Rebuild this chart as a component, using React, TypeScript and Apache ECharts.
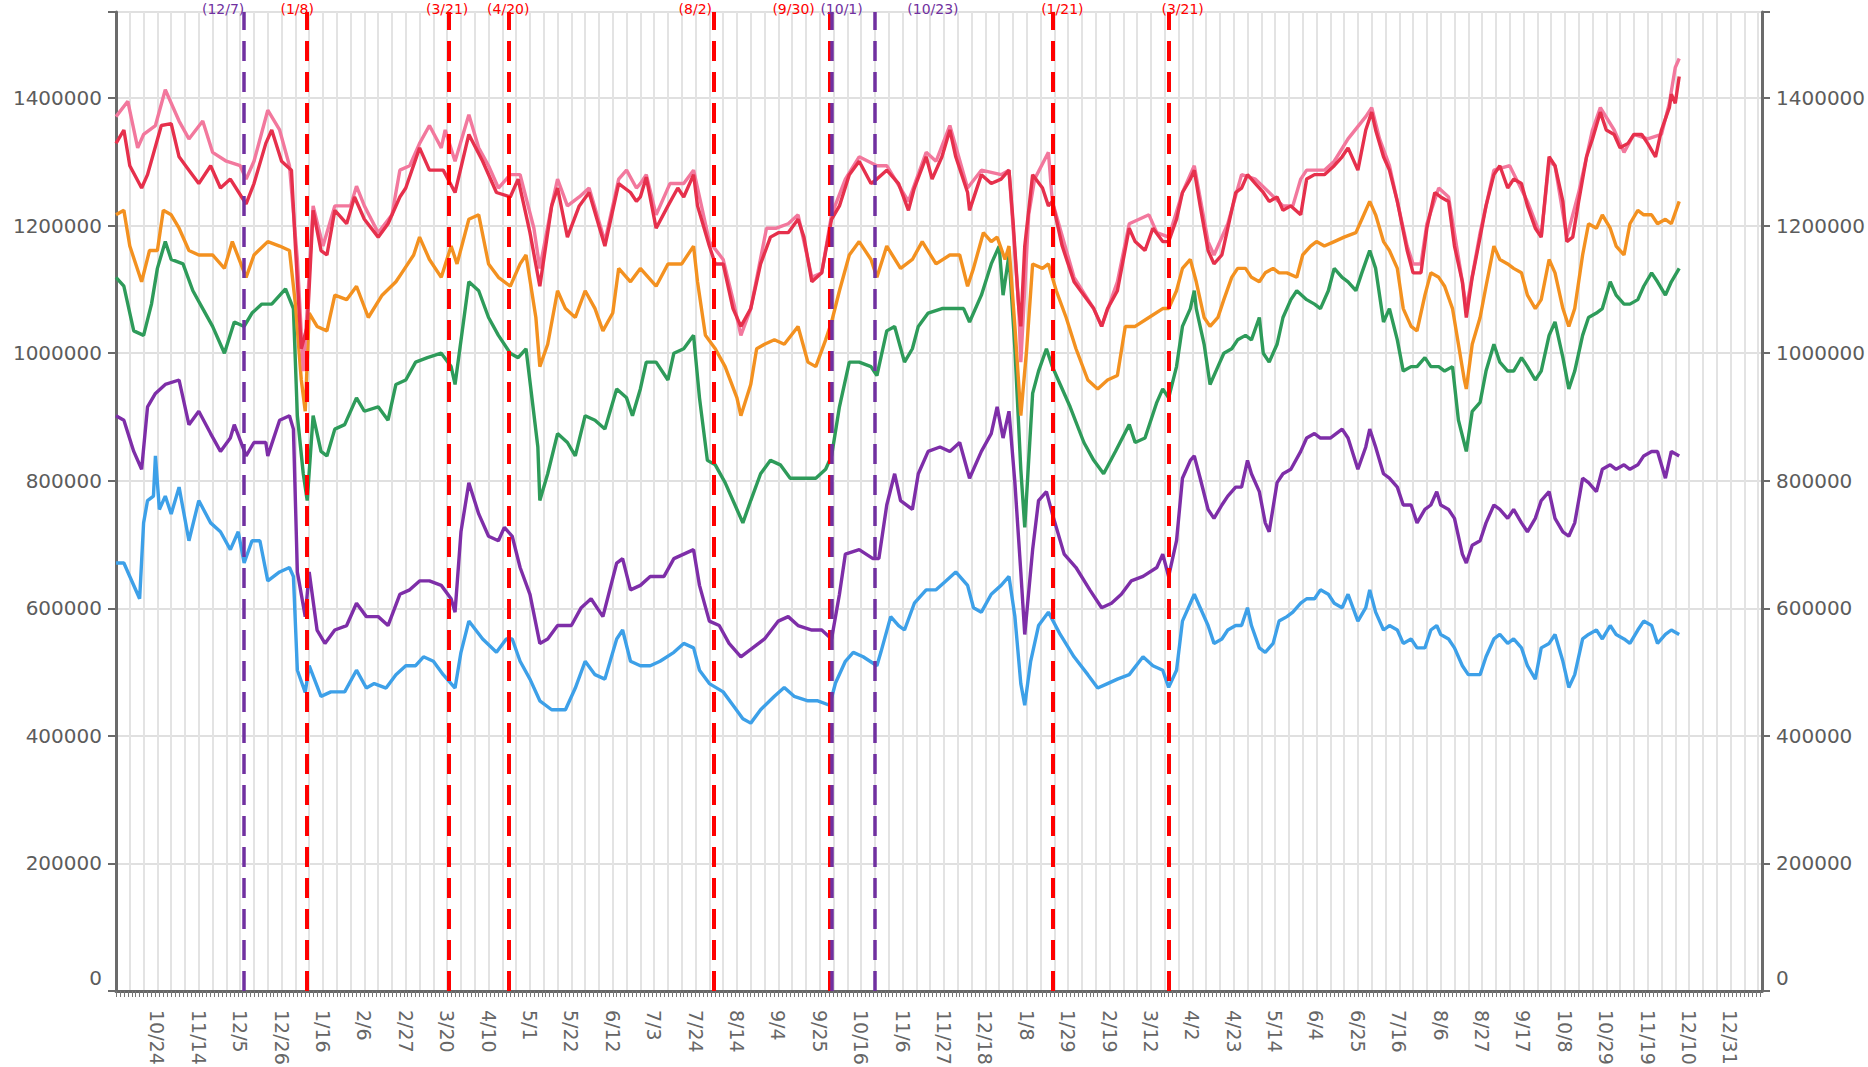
import React, { useEffect, useRef } from 'react';
import * as echarts from 'echarts';

// ---------- axis definition ----------
const axisStartDate = '2021-10-03'; // first day shown on the x axis
const axisDayCount = 836; // daily categories up to 2024-01-15
const originDate = '2021-10-24'; // day 0 of the data arrays; labels every 21 days from here
const labelEveryDays = 21;
const gridEveryDays = 7;
const yTickValues = [0, 200000, 400000, 600000, 800000, 1000000, 1200000, 1400000];

// ---------- data: [days since 2021-10-24, value] ----------
const pinkSeries: [number, number][] = [
  [-21,1371000],[-15,1395000],[-10,1322000],[-7,1343000],[-1,1357000],[4,1413000],[11,1364000],[16,1336000],[23,1364000],[28,1315000],[35,1301000],[42,1294000],[45,1273000],[49,1301000],[56,1381000],[62,1350000],[67,1294000],[71,1147000],[74,972000],[76,1070000],[79,1231000],[84,1168000],[90,1231000],[98,1231000],[101,1262000],[105,1231000],[112,1189000],[119,1217000],[123,1287000],[128,1294000],[133,1329000],[138,1357000],[144,1322000],[146,1350000],[151,1301000],[158,1374000],[163,1322000],[168,1294000],[173,1259000],[179,1280000],[184,1280000],[191,1196000],[194,1133000],[200,1231000],[203,1273000],[208,1231000],[214,1245000],[219,1259000],[227,1175000],[234,1273000],[238,1287000],[243,1259000],
  [245,1266000],[248,1280000],[253,1217000],[260,1266000],[267,1266000],[272,1287000],[280,1175000],[287,1147000],[292,1084000],[296,1028000],[301,1070000],[309,1196000],[314,1196000],[320,1203000],[325,1217000],[332,1119000],[337,1126000],[342,1217000],[349,1273000],[356,1308000],[365,1294000],[370,1294000],[381,1238000],[390,1315000],[395,1301000],[402,1357000],[411,1259000],[418,1287000],[428,1280000],[432,1287000],[437,1070000],[438,986000],[442,1217000],[445,1273000],[452,1315000],[454,1238000],[465,1119000],[475,1070000],[479,1042000],[487,1112000],[493,1203000],[503,1217000],[507,1189000],
  [513,1182000],[520,1252000],[526,1294000],[533,1175000],[536,1154000],[543,1203000],[550,1280000],[557,1273000],[564,1252000],[571,1231000],[576,1231000],[580,1273000],[583,1287000],[592,1287000],[597,1301000],[604,1336000],[613,1371000],[616,1385000],[620,1336000],[625,1294000],[634,1168000],[637,1140000],[641,1140000],[644,1203000],[650,1259000],[655,1245000],[662,1112000],[664,1070000],[671,1189000],[678,1287000],[686,1294000],[695,1238000],[702,1182000],[706,1301000],[709,1294000],[715,1182000],[721,1252000],[728,1350000],[732,1385000],[739,1350000],[744,1315000],[749,1343000],[756,1336000],[763,1343000],[767,1392000],[770,1448000],[772,1462000],
];

const redSeries: [number, number][] = [
  [-21,1329000],[-17,1350000],[-14,1294000],[-8,1259000],[-5,1280000],[2,1357000],[7,1360000],[11,1308000],[16,1287000],[21,1266000],[27,1294000],[32,1259000],[37,1273000],[45,1234000],[49,1266000],[55,1329000],[58,1350000],[63,1301000],[68,1287000],[70,1168000],[73,1007000],[76,1042000],[79,1224000],[83,1161000],[86,1154000],[90,1224000],[96,1203000],[100,1245000],[105,1210000],[112,1182000],[117,1203000],[123,1245000],[126,1259000],[133,1322000],[138,1287000],[145,1287000],[151,1252000],[158,1343000],[165,1301000],[172,1252000],[179,1245000],[183,1273000],[189,1189000],[194,1105000],[200,1231000],[203,1259000],[208,1182000],[214,1231000],[219,1252000],[227,1168000],[234,1266000],[240,1252000],[243,1238000],
  [245,1245000],[248,1276000],[253,1196000],[259,1231000],[264,1259000],[267,1245000],[272,1280000],[274,1231000],[280,1168000],[283,1140000],[287,1140000],[292,1070000],[296,1042000],[301,1070000],[306,1140000],[311,1182000],[315,1189000],[320,1189000],[325,1210000],[328,1182000],[332,1112000],[337,1126000],[342,1210000],[346,1231000],[351,1280000],[356,1301000],[362,1266000],[365,1273000],[370,1287000],[376,1266000],[381,1224000],[384,1259000],[390,1308000],[393,1273000],[398,1308000],[402,1350000],[405,1308000],[411,1252000],[412,1224000],[418,1280000],[423,1266000],[428,1273000],[432,1287000],[434,1210000],[437,1070000],[438,1042000],[440,1168000],[444,1280000],[449,1259000],[452,1231000],[454,1238000],[459,1168000],[465,1112000],[470,1091000],[475,1070000],[479,1042000],[482,1070000],[487,1098000],[493,1196000],[496,1175000],[501,1161000],[505,1196000],[510,1175000],
  [513,1175000],[517,1210000],[520,1252000],[524,1273000],[526,1287000],[529,1231000],[533,1161000],[536,1140000],[540,1154000],[543,1196000],[547,1252000],[550,1259000],[553,1280000],[557,1266000],[561,1252000],[564,1238000],[568,1245000],[571,1224000],[575,1231000],[580,1217000],[583,1273000],[587,1280000],[592,1280000],[597,1294000],[601,1308000],[604,1322000],[609,1287000],[613,1350000],[616,1378000],[618,1350000],[622,1308000],[625,1287000],[629,1238000],[634,1161000],[637,1126000],[641,1126000],[644,1196000],[648,1252000],[651,1245000],[655,1238000],[658,1168000],[662,1112000],[664,1056000],[667,1119000],[671,1182000],[674,1231000],[678,1280000],[681,1294000],[685,1259000],[688,1273000],[692,1266000],[695,1231000],[699,1196000],[702,1182000],[706,1308000],[709,1294000],[713,1238000],[715,1175000],[718,1182000],[721,1238000],[725,1308000],[728,1336000],[732,1378000],[735,1350000],[739,1343000],[742,1322000],[746,1329000],[749,1343000],[753,1343000],[756,1329000],[760,1308000],[763,1350000],[767,1385000],[768,1406000],[770,1392000],[772,1434000],
];

const orangeSeries: [number, number][] = [
  [-21,1217000],[-17,1224000],[-14,1168000],[-8,1112000],[-4,1161000],[0,1161000],[3,1224000],[7,1217000],[11,1196000],[16,1161000],[21,1154000],[28,1154000],[34,1133000],[38,1175000],[45,1119000],[49,1154000],[56,1175000],[62,1168000],[67,1161000],[70,1077000],[73,958000],[75,909000],[77,1063000],[81,1042000],[86,1035000],[90,1091000],[96,1084000],[101,1105000],[107,1056000],[114,1091000],[121,1112000],[124,1126000],[130,1154000],[133,1182000],[138,1147000],[144,1119000],[149,1168000],[152,1140000],[158,1210000],[163,1217000],[168,1140000],[173,1119000],[179,1105000],[184,1140000],[187,1154000],[192,1056000],[194,979000],[198,1014000],[203,1098000],[207,1070000],[212,1056000],[217,1098000],[222,1070000],[226,1035000],[231,1063000],[234,1133000],[240,1112000],
  [245,1133000],[253,1105000],[259,1140000],[266,1140000],[272,1168000],[274,1112000],[278,1028000],[283,1007000],[288,979000],[294,930000],[296,902000],[301,951000],[304,1007000],[308,1014000],[313,1021000],[318,1014000],[325,1042000],[330,986000],[334,979000],[339,1021000],[342,1049000],[346,1098000],[351,1154000],[356,1175000],[362,1147000],[365,1119000],[370,1168000],[377,1133000],[383,1147000],[388,1175000],[395,1140000],[402,1154000],[407,1154000],[411,1105000],[414,1133000],[419,1189000],[423,1175000],[426,1182000],[430,1147000],[432,1168000],[435,1042000],[438,902000],[441,1007000],[444,1140000],[449,1133000],[452,1140000],[456,1098000],[461,1056000],[466,1007000],[472,958000],[477,944000],[482,958000],[487,965000],[491,1042000],[496,1042000],[503,1056000],[510,1070000],
  [513,1070000],[517,1098000],[520,1133000],[524,1147000],[527,1112000],[531,1056000],[534,1042000],[538,1056000],[541,1084000],[545,1119000],[548,1133000],[552,1133000],[555,1119000],[559,1112000],[562,1126000],[566,1133000],[569,1126000],[573,1126000],[578,1119000],[581,1154000],[585,1168000],[588,1175000],[592,1168000],[597,1175000],[602,1182000],[608,1189000],[611,1210000],[615,1238000],[618,1217000],[622,1175000],[625,1161000],[629,1133000],[632,1070000],[636,1042000],[639,1035000],[643,1091000],[646,1126000],[650,1119000],[653,1105000],[657,1070000],[660,1014000],[663,958000],[664,944000],[667,1014000],[671,1056000],[674,1105000],[678,1168000],[681,1147000],[685,1140000],[688,1133000],[692,1126000],[695,1091000],[699,1070000],[702,1084000],[706,1147000],[709,1126000],[713,1070000],[716,1042000],[719,1070000],[723,1154000],[726,1203000],[730,1196000],[733,1217000],[737,1196000],[740,1168000],[744,1154000],[747,1203000],[751,1224000],[754,1217000],[758,1217000],[761,1203000],[765,1210000],[768,1203000],[772,1238000],
];

const greenSeries: [number, number][] = [
  [-21,1119000],[-17,1105000],[-12,1035000],[-7,1028000],[-3,1077000],[0,1133000],[4,1175000],[7,1147000],[13,1140000],[18,1098000],[23,1070000],[28,1042000],[34,1000000],[39,1049000],[44,1042000],[48,1063000],[53,1077000],[58,1077000],[65,1101000],[69,1070000],[71,902000],[74,811000],[76,769000],[79,902000],[83,846000],[86,839000],[90,881000],[95,888000],[101,930000],[105,909000],[112,916000],[117,895000],[121,951000],[126,958000],[131,986000],[137,993000],[144,1000000],[149,979000],[151,951000],[158,1112000],[163,1098000],[168,1056000],[173,1028000],[179,1000000],[183,993000],[187,1007000],[193,853000],[194,769000],[198,811000],[203,874000],[208,860000],[212,839000],[217,902000],[222,895000],[227,881000],[233,944000],[238,930000],[241,902000],
  [245,944000],[248,986000],[253,986000],[259,958000],[262,1000000],[267,1007000],[272,1028000],[275,930000],[279,832000],[283,825000],[288,797000],[294,755000],[297,734000],[301,769000],[306,811000],[311,832000],[316,825000],[321,804000],[328,804000],[334,804000],[339,818000],[342,839000],[346,916000],[351,986000],[356,986000],[362,979000],[365,965000],[370,1035000],[374,1042000],[379,986000],[383,1007000],[386,1042000],[391,1063000],[398,1070000],[402,1070000],[409,1070000],[412,1049000],[418,1091000],[423,1140000],[427,1168000],[429,1091000],[432,1154000],[435,1007000],[438,818000],[440,727000],[444,937000],[447,972000],[451,1007000],[454,979000],[458,951000],[463,916000],[470,860000],[475,832000],[480,811000],[486,846000],[493,888000],[496,860000],[501,867000],[507,923000],[510,944000],
  [513,930000],[517,979000],[520,1042000],[524,1070000],[526,1098000],[527,1070000],[531,1014000],[534,951000],[538,979000],[541,1000000],[545,1007000],[548,1021000],[552,1028000],[555,1021000],[559,1056000],[561,1000000],[564,986000],[568,1014000],[571,1056000],[575,1084000],[578,1098000],[583,1084000],[587,1077000],[590,1070000],[594,1098000],[597,1133000],[601,1119000],[604,1112000],[608,1098000],[611,1126000],[615,1161000],[618,1133000],[622,1049000],[625,1070000],[629,1021000],[632,972000],[636,979000],[639,979000],[643,993000],[646,979000],[650,979000],[653,972000],[657,979000],[660,895000],[664,846000],[667,909000],[671,923000],[674,972000],[678,1014000],[681,986000],[685,972000],[688,972000],[692,993000],[695,979000],[699,958000],[702,972000],[706,1028000],[709,1049000],[713,993000],[716,944000],[719,972000],[723,1028000],[726,1056000],[730,1063000],[733,1070000],[737,1112000],[740,1091000],[744,1077000],[747,1077000],[751,1084000],[754,1105000],[758,1126000],[761,1112000],[765,1091000],[768,1112000],[772,1133000],
];

const purpleSeries: [number, number][] = [
  [-21,902000],[-17,895000],[-12,846000],[-8,818000],[-5,916000],[-1,937000],[4,951000],[11,958000],[16,888000],[21,909000],[27,874000],[32,846000],[37,867000],[39,888000],[45,839000],[49,860000],[55,860000],[56,839000],[62,895000],[67,902000],[69,881000],[71,657000],[75,587000],[77,657000],[81,566000],[85,545000],[90,566000],[96,573000],[101,608000],[106,587000],[112,587000],[117,573000],[123,622000],[128,629000],[133,643000],[138,643000],[144,636000],[149,615000],[151,594000],[154,720000],[158,797000],[163,748000],[168,713000],[173,706000],[176,727000],[180,713000],[184,664000],[189,622000],[194,545000],[198,552000],[203,573000],[210,573000],[215,601000],[220,615000],[226,587000],[233,671000],[236,678000],[240,629000],
  [245,636000],[250,650000],[257,650000],[262,678000],[267,685000],[272,692000],[275,636000],[280,580000],[285,573000],[290,545000],[296,524000],[302,538000],[308,552000],[315,580000],[320,587000],[325,573000],[332,566000],[337,566000],[342,552000],[346,622000],[349,685000],[356,692000],[363,678000],[366,678000],[370,762000],[374,811000],[377,769000],[383,755000],[386,811000],[391,846000],[397,853000],[402,846000],[407,860000],[412,804000],[418,846000],[423,874000],[426,916000],[429,867000],[432,909000],[435,797000],[438,657000],[440,559000],[444,692000],[447,769000],[451,783000],[454,748000],[460,685000],[466,664000],[473,629000],[479,601000],[484,608000],[489,622000],[494,643000],[500,650000],[507,664000],[510,685000],
  [513,650000],[517,706000],[520,804000],[524,832000],[526,839000],[529,804000],[533,755000],[536,741000],[540,762000],[543,776000],[547,790000],[550,790000],[553,832000],[555,811000],[559,783000],[562,734000],[564,720000],[568,797000],[571,811000],[575,818000],[580,846000],[583,867000],[587,874000],[590,867000],[595,867000],[601,881000],[604,867000],[609,818000],[613,853000],[615,881000],[618,853000],[622,811000],[625,804000],[629,790000],[632,762000],[636,762000],[639,734000],[643,755000],[646,762000],[649,783000],[651,762000],[655,755000],[658,741000],[662,685000],[664,671000],[667,699000],[671,706000],[674,734000],[678,762000],[681,755000],[685,741000],[688,755000],[692,734000],[695,720000],[699,741000],[702,769000],[706,783000],[709,741000],[713,720000],[716,713000],[719,734000],[723,804000],[726,797000],[730,783000],[733,818000],[737,825000],[740,818000],[744,825000],[747,818000],[751,825000],[754,839000],[758,846000],[761,846000],[765,804000],[768,846000],[772,839000],
];

const blueSeries: [number, number][] = [
  [-21,671000],[-17,671000],[-14,650000],[-9,615000],[-7,734000],[-5,769000],[-2,776000],[-1,839000],[1,755000],[4,776000],[7,748000],[11,790000],[16,706000],[21,769000],[27,734000],[32,720000],[37,692000],[41,720000],[44,671000],[48,706000],[52,706000],[56,643000],[62,657000],[67,664000],[69,650000],[71,503000],[75,468000],[77,510000],[83,462000],[88,469000],[95,469000],[101,503000],[106,475000],[110,482000],[116,475000],[121,496000],[126,510000],[131,510000],[135,524000],[140,517000],[145,496000],[151,475000],[154,531000],[158,580000],[165,552000],[172,531000],[177,552000],[180,552000],[184,517000],[189,489000],[194,455000],[200,441000],[207,441000],[212,475000],[217,517000],[222,496000],[227,489000],[233,552000],[236,566000],[240,517000],
  [245,510000],[250,510000],[255,517000],[262,531000],[267,545000],[272,538000],[275,503000],[280,482000],[287,469000],[292,448000],[297,427000],[301,420000],[306,441000],[313,462000],[318,476000],[323,462000],[330,455000],[335,455000],[341,448000],[344,483000],[349,517000],[353,531000],[358,524000],[365,510000],[367,531000],[372,587000],[376,573000],[379,566000],[384,608000],[390,629000],[395,629000],[400,643000],[405,657000],[411,636000],[414,601000],[418,594000],[423,622000],[428,636000],[432,650000],[435,587000],[438,482000],[440,448000],[443,517000],[447,573000],[452,594000],[458,559000],[465,524000],[472,496000],[477,475000],[482,482000],[487,489000],[493,496000],[500,524000],[505,510000],[510,503000],
  [513,476000],[517,503000],[520,580000],[524,608000],[526,622000],[529,601000],[533,573000],[536,545000],[540,552000],[543,566000],[547,573000],[550,573000],[553,601000],[555,573000],[559,538000],[562,531000],[566,545000],[569,580000],[573,587000],[576,594000],[580,608000],[583,615000],[587,615000],[590,629000],[594,622000],[597,608000],[601,601000],[604,622000],[609,580000],[613,601000],[615,629000],[618,594000],[622,566000],[625,573000],[629,566000],[632,545000],[636,552000],[639,538000],[643,538000],[646,566000],[649,573000],[651,559000],[655,552000],[658,538000],[662,510000],[665,496000],[671,496000],[674,524000],[678,552000],[681,559000],[685,545000],[688,552000],[692,538000],[695,510000],[699,489000],[702,538000],[706,545000],[709,559000],[713,517000],[716,476000],[719,496000],[723,552000],[726,559000],[730,566000],[733,552000],[737,573000],[740,559000],[744,552000],[747,545000],[751,566000],[754,580000],[758,573000],[761,545000],[765,559000],[768,566000],[772,559000],
];

// ---------- event markers ----------
const markerDates = ['2021-12-07', '2022-01-08', '2022-03-21', '2022-04-20', '2022-08-02', '2022-09-30', '2022-10-01', '2022-10-23', '2023-01-21', '2023-03-21'];
const markerLabels = ['(12/7)', '(1/8)', '(3/21)', '(4/20)', '(8/2)', '(9/30)', '(10/1)', '(10/23)', '(1/21)', '(3/21)'];
const markerKinds = ['purple', 'red', 'red', 'red', 'red', 'red', 'purple', 'purple', 'red', 'red'];

// ---------- styles (kept apart from the data) ----------
const markerColors: Record<string, string> = { red: '#ff0000', purple: '#7030a0' };
const markerLabelShift = [-21, -10, -2, 0, -18, -36, 10, 58, 10, 14];
const seriesStyles = [
  { name: 'Series A', data: blueSeries, color: '#3da0e8' },
  { name: 'Series B', data: purpleSeries, color: '#7e2ea8' },
  { name: 'Series C', data: greenSeries, color: '#2e9b5a' },
  { name: 'Series D', data: orangeSeries, color: '#f39120' },
  { name: 'Series E', data: pinkSeries, color: '#f2789d' },
  { name: 'Series F', data: redSeries, color: '#e6304c' },
];

const MS_DAY = 86400000;
const daysBetween = (a: string, b: string) => Math.round((Date.parse(b) - Date.parse(a)) / MS_DAY);
const originIndex = daysBetween(axisStartDate, originDate);
const categories = Array.from({ length: axisDayCount }, (_, i) => {
  const d = new Date(Date.parse(axisStartDate) + i * MS_DAY);
  return `${d.getUTCMonth() + 1}/${d.getUTCDate()}`;
});

const FONT = 'DejaVu Sans';
const Y_LABEL_COLOR = '#5c5c5c';

function buildOption() {
  const yAxis = (position: 'left' | 'right') => ({
    type: 'value',
    position,
    min: 0,
    max: 1535000,
    interval: 200000,
    axisLine: { show: true, lineStyle: { color: '#6b6b6b', width: 3 } },
    axisTick: { show: true, length: 8, lineStyle: { color: '#6b6b6b', width: 2 } },
    axisLabel: {
      formatter: (v: number) => (v === 0 ? '{zero|0}' : yTickValues.includes(v) ? String(v) : ''),
      fontSize: 20,
      color: Y_LABEL_COLOR,
      fontFamily: FONT,
      margin: 14,
      rich: {
        zero: { fontSize: 20, color: Y_LABEL_COLOR, fontFamily: FONT, padding: [0, 0, 26, 0] },
      },
    },
    splitLine: { show: position === 'left', lineStyle: { color: '#d6d6d6', width: 1.5 } },
  });

  const markLineData = markerDates.map((date, i) => {
    const color = markerColors[markerKinds[i]];
    const shift = markerLabelShift[i];
    return {
      xAxis: daysBetween(axisStartDate, date),
      lineStyle: { color, type: [20, 11], width: markerKinds[i] === 'red' ? 4 : 3.5 },
      label: {
        show: true,
        position: 'end',
        formatter: markerLabels[i],
        color,
        fontSize: 14,
        fontFamily: FONT,
        distance: -4,
        padding: shift >= 0 ? [0, 0, 0, shift * 2] : [0, -shift * 2, 0, 0],
      },
    };
  });

  const series = seriesStyles.map((s, i) => ({
    type: 'line',
    name: s.name,
    data: s.data.map(([d, v]) => [d + originIndex, v]),
    symbol: 'none',
    showSymbol: false,
    silent: true,
    lineStyle: { color: s.color, width: 3.4 },
    itemStyle: { color: s.color },
    z: 2 + i * 0.01,
    ...(i === seriesStyles.length - 1
      ? {
          markLine: {
            silent: true,
            symbol: ['none', 'none'],
            animation: false,
            z: 10,
            data: markLineData,
          },
        }
      : {}),
  }));

  return {
    animation: false,
    backgroundColor: '#ffffff',
    grid: { left: 116, right: 106, top: 12, bottom: 76, containLabel: false, outerBoundsMode: 'none' },
    xAxis: {
      type: 'category',
      data: categories,
      boundaryGap: false,
      axisLine: { show: true, lineStyle: { color: '#666666', width: 3 } },
      axisTick: {
        show: true,
        interval: (i: number) => i % 2 === 0,
        length: 6,
        lineStyle: { color: '#777777', width: 1 },
      },
      axisLabel: {
        interval: (i: number) => i >= originIndex && (i - originIndex) % labelEveryDays === 0,
        rotate: -90,
        margin: 19,
        fontSize: 19,
        color: '#666666',
        fontFamily: FONT,
      },
      splitLine: {
        show: true,
        interval: (i: number) => (i - originIndex) % gridEveryDays === 0,
        lineStyle: { color: '#e3e3e3', width: 2 },
      },
    },
    yAxis: [yAxis('left'), yAxis('right')],
    series,
  };
}

export default function App() {
  const ref = useRef<HTMLDivElement>(null);
  useEffect(() => {
    document.body.style.margin = '0';
    if (!ref.current) return;
    const chart = echarts.init(ref.current, undefined, { renderer: 'svg' });
    chart.setOption(buildOption() as any);
    return () => chart.dispose();
  }, []);
  return <div ref={ref} style={{ width: 1868, height: 1067 }} />;
}
